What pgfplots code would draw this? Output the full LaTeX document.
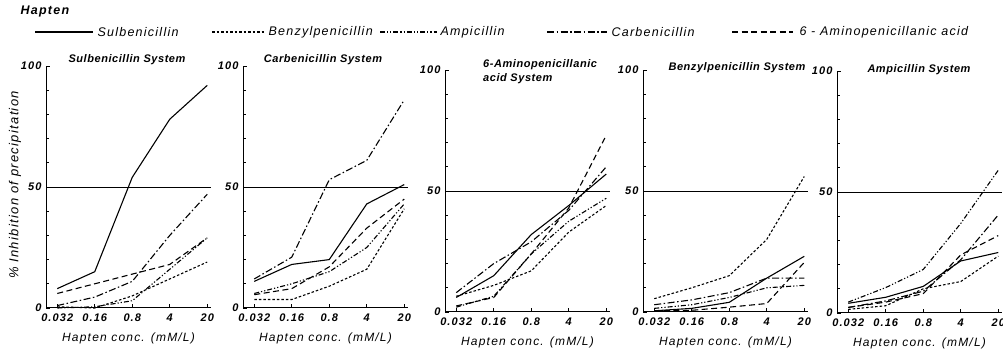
\documentclass[border=0pt]{standalone}
\usepackage{fontspec}
\setmainfont{Liberation Sans}
\newfontfamily\lsf[LetterSpace=10]{Liberation Sans}
\newfontfamily\tsf[LetterSpace=5]{Liberation Sans}
\usepackage{pgfplots}
\pgfplotsset{compat=1.18}
\tikzset{
 sul/.style={black, line width=1.1pt},
 benz/.style={black, line width=1.1pt, dash pattern=on 2.5pt off 2pt},
 amp/.style={black, line width=1.1pt, dash pattern=on 5pt off 2pt on 1.2pt off 2pt on 1.2pt off 2pt},
 carb/.style={black, line width=1.1pt, dash pattern=on 7pt off 2.5pt on 1.5pt off 2.5pt},
 apa/.style={black, line width=1.1pt, dash pattern=on 6pt off 3.5pt},
}
\pgfplotsset{panel/.style={
 scale only axis, width=165pt, height=242pt,
 xmin=-0.3, xmax=4.1, ymin=0, ymax=100,
 axis x line*=bottom, axis y line*=left,
 axis line style={line width=1pt},
 xtick={0,1,2,3,4}, xticklabels={0.032,0.16,0.8,4,20},
 ytick={0,50,100}, minor ytick={10,20,30,40,60,70,80,90},
 tick align=inside, major tick length=4pt, minor tick length=3pt,
 tick style={black, line width=0.8pt},
 /pgf/number format/assume math mode=true,
 ticklabel style={font=\lsf\fontsize{11}{13}\selectfont\bfseries\itshape},
 xticklabel style={yshift=-2pt},
 yticklabel style={xshift=-1pt},
 xlabel={\lsf\itshape Hapten conc. (mM/L)},
 xlabel style={font=\fontsize{12}{14}\selectfont, yshift=-5pt},
 clip=false,
}}
\begin{document}
\begin{tikzpicture}
\path[use as bounding box] (0pt,0pt) rectangle (1003pt,350pt);
% legend
\node[anchor=west, font=\fontsize{12.5}{14}\selectfont] at (17pt,338pt) {\lsf\bfseries\itshape Hapten};
\begin{scope}[font=\fontsize{12.5}{14}\selectfont]
\draw[sul] (35pt,318pt) -- (93pt,318pt); \node[anchor=west] at (94pt,318pt) {\lsf\itshape Sulbenicillin};
\draw[benz] (212pt,318pt) -- (264pt,318pt); \node[anchor=west] at (265pt,318pt) {\lsf\itshape Benzylpenicillin};
\draw[amp] (380pt,318pt) -- (437pt,318pt); \node[anchor=west] at (437pt,318pt) {\lsf\itshape Ampicillin};
\draw[carb] (547pt,318pt) -- (607pt,318pt); \node[anchor=west] at (608pt,318pt) {\lsf\itshape Carbenicillin};
\draw[apa] (732pt,318pt) -- (793pt,318pt); \node[anchor=west] at (796pt,318pt) {\lsf\itshape 6 - Aminopenicillanic acid};
\end{scope}
% y label
\node[rotate=90, font=\fontsize{13}{15}\selectfont] at (15pt,165pt) {\lsf\itshape \% Inhibition of precipitation};
% titles
\begin{scope}[font=\fontsize{11}{14}\selectfont]
\node at (127pt,290pt) {\tsf\bfseries\itshape Sulbenicillin System};
\node at (323pt,290pt) {\tsf\bfseries\itshape Carbenicillin System};
\node[anchor=north west, align=left, inner sep=0pt] at (483pt,291pt) {\tsf\bfseries\itshape 6-Aminopenicillanic\\\tsf\bfseries\itshape acid System};
\node at (737pt,282pt) {\tsf\bfseries\itshape Benzylpenicillin System};
\node at (919pt,280pt) {\tsf\bfseries\itshape Ampicillin System};
\end{scope}
% Panel 1: Sulbenicillin System
\begin{axis}[panel, at={(46pt,42pt)}, anchor=south west]
\addplot[black, line width=0.8pt] coordinates {(-0.3,50) (4.1,50)};
\addplot[sul] coordinates {(0,8) (1,15) (2,54) (3,78) (4,92)};
\addplot[benz] coordinates {(0,0.5) (1,0) (2,5) (3,12) (4,19)};
\addplot[amp] coordinates {(0,0) (1,0.5) (2,3) (3,16) (4,29)};
\addplot[carb] coordinates {(0,1) (1,4.5) (2,11) (3,30) (4,47)};
\addplot[apa] coordinates {(0,6) (1,10) (2,14) (3,18) (4,29)};
\end{axis}
% Panel 2: Carbenicillin System
\begin{axis}[panel, at={(243pt,42pt)}, anchor=south west]
\addplot[black, line width=0.8pt] coordinates {(-0.3,50) (4.1,50)};
\addplot[sul] coordinates {(0,11) (1,18) (2,20) (3,43) (4,51)};
\addplot[benz] coordinates {(0,3.5) (1,3.5) (2,9) (3,16) (4,41)};
\addplot[amp] coordinates {(0,6) (1,10) (2,15) (3,25) (4,43)};
\addplot[carb] coordinates {(0,12) (1,21) (2,53) (3,61) (4,86)};
\addplot[apa] coordinates {(0,5.5) (1,8) (2,17) (3,33) (4,45)};
\end{axis}
% Panel 3: 6-APA System
\begin{axis}[panel, at={(445pt,38pt)}, anchor=south west]
\addplot[black, line width=0.8pt] coordinates {(-0.3,50) (4.1,50)};
\addplot[sul] coordinates {(0,6) (1,15) (2,32) (3,44) (4,57)};
\addplot[benz] coordinates {(0,6.5) (1,11) (2,17) (3,33) (4,44)};
\addplot[amp] coordinates {(0,2) (1,6.5) (2,24) (3,37.5) (4,47)};
\addplot[carb] coordinates {(0,8) (1,20) (2,29) (3,42) (4,60)};
\addplot[apa] coordinates {(0,2.5) (1,6) (2,24) (3,43) (4,73)};
\end{axis}
% Panel 4: Benzylpenicillin System
\begin{axis}[panel, at={(643pt,38pt)}, anchor=south west]
\addplot[black, line width=0.8pt] coordinates {(-0.3,50) (4.1,50)};
\addplot[sul] coordinates {(0,0.5) (1,1.5) (2,4) (3,14) (4,23)};
\addplot[benz] coordinates {(0,5.5) (1,10) (2,15) (3,30) (4,56)};
\addplot[amp] coordinates {(0,1.5) (1,3) (2,6) (3,10) (4,11)};
\addplot[carb] coordinates {(0,3) (1,5) (2,8) (3,14) (4,14)};
\addplot[apa] coordinates {(0,0.5) (1,0.7) (2,2) (3,3.5) (4,20.5)};
\end{axis}
% Panel 5: Ampicillin System
\begin{axis}[panel, at={(837pt,37pt)}, anchor=south west]
\addplot[black, line width=0.8pt] coordinates {(-0.3,50) (4.1,50)};
\addplot[sul] coordinates {(0,4) (1,6.5) (2,11) (3,21.5) (4,25)};
\addplot[benz] coordinates {(0,1.5) (1,3) (2,10) (3,13) (4,23.5)};
\addplot[amp] coordinates {(0,4.5) (1,10.5) (2,18) (3,37) (4,59)};
\addplot[carb] coordinates {(0,2.3) (1,5) (2,9) (3,22) (4,40.5)};
\addplot[apa] coordinates {(0,2.3) (1,4.5) (2,8) (3,24) (4,32)};
\end{axis}
\end{tikzpicture}
\end{document}
